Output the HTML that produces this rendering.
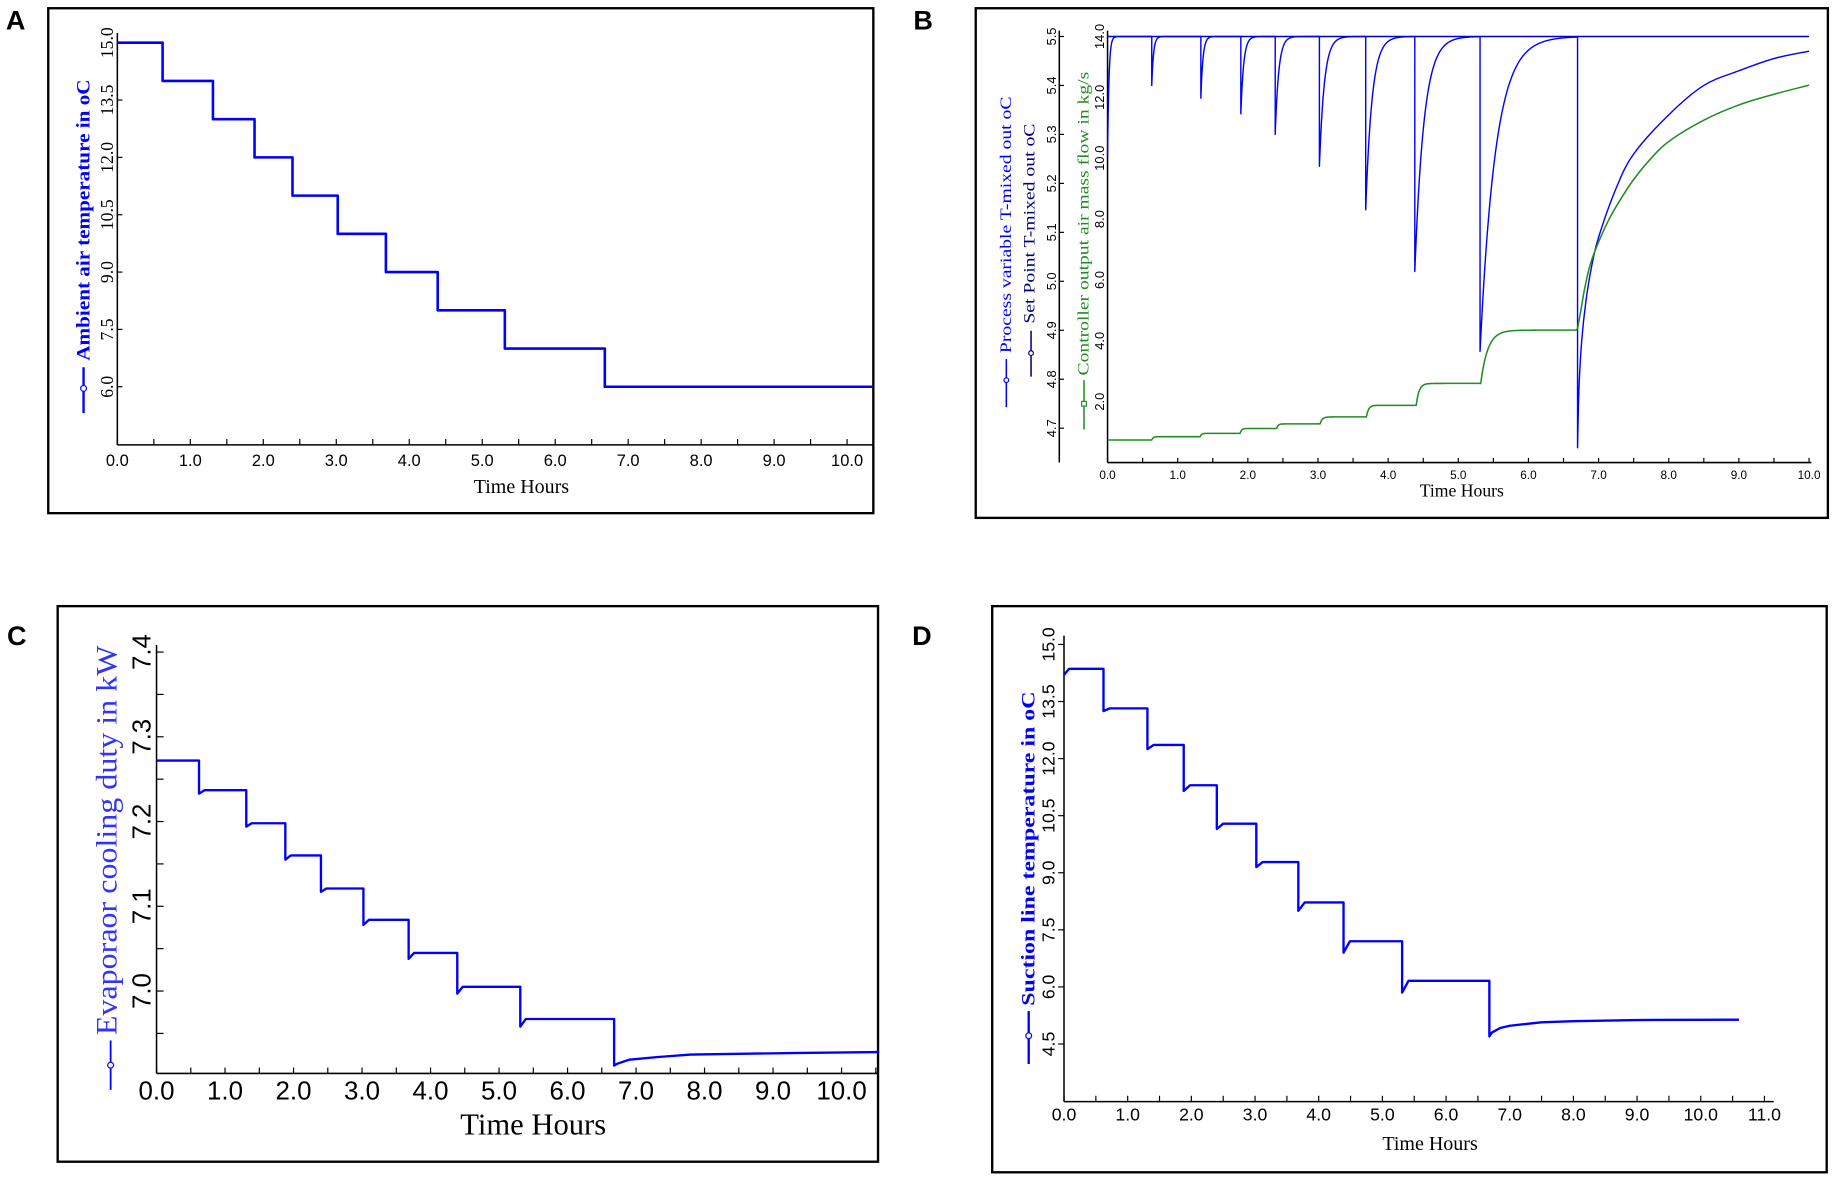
<!DOCTYPE html>
<html><head><meta charset="utf-8"><style>
html,body{margin:0;padding:0;background:#fff;width:1840px;height:1177px;overflow:hidden}
svg{display:block}
.serif{font-family:"Liberation Serif",serif}
.sans{font-family:"Liberation Sans",sans-serif}
</style></head><body>
<svg id="fig" width="1840" height="1177" viewBox="0 0 1563.3 1000" preserveAspectRatio="none" xmlns="http://www.w3.org/2000/svg">
<rect x="0" y="0" width="1563.3" height="1000" fill="#fff"/>
<g id="pa">
 <text x="5" y="25" class="sans" font-weight="bold" font-size="23">A</text>
 <rect x="41" y="7" width="701" height="429" fill="none" stroke="#000" stroke-width="2"/>
 <text class="serif" font-weight="bold" font-size="16" fill="#0000ff" text-anchor="middle" textLength="239" lengthAdjust="spacingAndGlyphs" transform="translate(76,187) rotate(-90)">Ambient air temperature in oC</text>
 <g><line x1="71" y1="312" x2="71" y2="351" stroke="#0000ff" stroke-width="2"/><circle cx="71" cy="330" r="2.5" fill="#fff" stroke="#0000ff"/></g>
 <text x="443" y="419" class="serif" font-size="17" text-anchor="middle">Time Hours</text>
</g>
<g id="pb">
 <text x="776" y="25" class="sans" font-weight="bold" font-size="23">B</text>
 <rect x="829" y="7" width="724" height="433" fill="none" stroke="#000" stroke-width="2"/>
 <text class="serif" font-size="13" fill="#0000ff" text-anchor="middle" textLength="218" lengthAdjust="spacingAndGlyphs" transform="translate(859,191) rotate(-90)">Process variable T-mixed out oC</text>
 <text class="serif" font-size="13" fill="#000080" text-anchor="middle" textLength="170" lengthAdjust="spacingAndGlyphs" transform="translate(879,190) rotate(-90)">Set Point T-mixed out oC</text>
 <text class="serif" font-size="13" fill="#228b22" text-anchor="middle" textLength="258" lengthAdjust="spacingAndGlyphs" transform="translate(925,190) rotate(-90)">Controller output air mass flow in kg/s</text>
 <g><line x1="855" y1="305" x2="855" y2="346" stroke="#0000ff" stroke-width="1.3"/><circle cx="855" cy="323" r="2" fill="#fff" stroke="#0000ff"/></g>
 <g><line x1="876" y1="281" x2="876" y2="320" stroke="#000080" stroke-width="1.3"/><circle cx="876" cy="300" r="2" fill="#fff" stroke="#000080"/></g>
 <g><line x1="921" y1="323" x2="921" y2="365" stroke="#228b22" stroke-width="1.3"/><rect x="919" y="341" width="4" height="4" fill="#fff" stroke="#228b22"/></g>
 <text x="1242" y="422" class="serif" font-size="15" text-anchor="middle">Time Hours</text>
</g>
<g id="pc">
 <text x="6" y="548" class="sans" font-weight="bold" font-size="23">C</text>
 <rect x="49" y="515" width="697" height="472" fill="none" stroke="#000" stroke-width="2"/>
 <text class="serif" font-size="25" fill="#3333ff" text-anchor="middle" textLength="331" lengthAdjust="spacingAndGlyphs" transform="translate(99,714) rotate(-90)">Evaporaor cooling duty in kW</text>
 <g><line x1="94" y1="884" x2="94" y2="926" stroke="#0000ff" stroke-width="1.5"/><circle cx="94" cy="905" r="2.5" fill="#fff" stroke="#0000ff"/></g>
 <text x="453" y="964" class="serif" font-size="26" text-anchor="middle">Time Hours</text>
</g>
<g id="pd">
 <text x="775" y="548" class="sans" font-weight="bold" font-size="23">D</text>
 <rect x="843" y="515" width="709" height="481" fill="none" stroke="#000" stroke-width="2"/>
 <text class="serif" font-weight="bold" font-size="16" fill="#0000ff" text-anchor="middle" textLength="267" lengthAdjust="spacingAndGlyphs" transform="translate(879,721) rotate(-90)">Suction line temperature in oC</text>
 <g><line x1="874" y1="859" x2="874" y2="904" stroke="#0000ff" stroke-width="2"/><circle cx="874" cy="880" r="2.5" fill="#fff" stroke="#0000ff"/></g>
 <text x="1215" y="977" class="serif" font-size="17" text-anchor="middle">Time Hours</text>
</g>
</svg>
<script>
// ---- data ----
const stepTimes = [0.62, 1.31, 1.88, 2.40, 3.02, 3.68, 4.39, 5.31, 6.68];
const aLevels = [15, 14, 13, 12, 11, 10, 9, 8, 7, 6];
const aTicksY = ["6.0", "7.5", "9.0", "10.5", "12.0", "13.5", "15.0"];
const hourTicks = ["0.0","1.0","2.0","3.0","4.0","5.0","6.0","7.0","8.0","9.0","10.0"];
const dHourTicks = ["0.0","1.0","2.0","3.0","4.0","5.0","6.0","7.0","8.0","9.0","10.0","11.0"];
const bLeftTicks = ["4.7","4.8","4.9","5.0","5.1","5.2","5.3","5.4","5.5"];
const bRightTicks = ["2.0","4.0","6.0","8.0","10.0","12.0","14.0"];
const bSetPoint = [5.5];
const pvEventTimes = [0, 0.63, 1.33, 1.90, 2.39, 3.02, 3.68, 4.38, 5.31];
const pvEventMins = [5.255, 5.40, 5.374, 5.342, 5.30, 5.235, 5.146, 5.02, 4.857];
const pvRecoveryHours = [0.02, 0.025, 0.03, 0.04, 0.05, 0.07, 0.09, 0.13, 0.22];
const pvTailT = [6.70, 6.70, 6.72, 6.76, 6.82, 6.90, 7.0, 7.25, 7.5, 8.0, 8.5, 9.0, 9.5, 10.0];
const pvTailV = [5.50, 4.66, 4.78, 4.88, 4.96, 5.03, 5.09, 5.19, 5.26, 5.34, 5.40, 5.43, 5.455, 5.47];
const coLevels = [0.74, 0.85, 0.96, 1.12, 1.27, 1.50, 1.88, 2.60, 4.35];
const coRiseHours = [0.02, 0.02, 0.02, 0.02, 0.03, 0.03, 0.04, 0.1];
const coTailT = [6.70, 6.74, 6.80, 6.88, 7.0, 7.15, 7.3, 7.5, 7.75, 8.0, 8.5, 9.0, 9.5, 10.0];
const coTailV = [4.40, 4.90, 5.70, 6.50, 7.25, 8.00, 8.60, 9.30, 10.00, 10.55, 11.25, 11.75, 12.10, 12.40];
const cLevels = [7.272, 7.237, 7.198, 7.160, 7.121, 7.084, 7.045, 7.005, 6.967];
const cDips = [7.233, 7.194, 7.155, 7.117, 7.078, 7.038, 6.997, 6.958];
const cTicksY = ["7.0", "7.1", "7.2", "7.3", "7.4"];
const cTailT = [6.68, 6.72, 6.9, 7.3, 7.8, 9.4, 10.55];
const cTailV = [6.912, 6.914, 6.919, 6.922, 6.925, 6.927, 6.928];
const dLevels = [14.36, 13.32, 12.36, 11.30, 10.29, 9.28, 8.22, 7.20, 6.16];
const dDips = [13.25, 12.25, 11.15, 10.15, 9.15, 8.0, 6.9, 5.85];
const dStart = [14.2];
const dTicksY = ["4.5", "6.0", "7.5", "9.0", "10.5", "12.0", "13.5", "15.0"];
const dTailT = [6.68, 6.72, 6.85, 7.0, 7.5, 8.0, 9.0, 10.6];
const dTailV = [4.70, 4.80, 4.92, 4.98, 5.07, 5.10, 5.13, 5.14];

// ---- helpers ----
const NS = 'http://www.w3.org/2000/svg';
function mk(tag, parent, attrs) {
  const e = document.createElementNS(NS, tag);
  for (const k in attrs) e.setAttribute(k, attrs[k]);
  parent.appendChild(e);
  return e;
}
function rotLabel(parent, x, y, txt, size, fam, name) {
  const t = mk('text', parent, {transform: 'translate(' + x + ',' + y + ') rotate(-90)', 'text-anchor': 'middle', 'font-size': size, 'class': fam});
  t.textContent = txt;
  
  
  return t;
}
function hLabel(parent, x, y, txt, size, fam, name) {
  const t = mk('text', parent, {x: x, y: y, 'text-anchor': 'middle', 'font-size': size, 'class': fam});
  t.textContent = txt;
  
  
  return t;
}
function axisLine(parent, x1, y1, x2, y2, name) {
  const l = mk('line', parent, {x1: x1, y1: y1, x2: x2, y2: y2, stroke: '#000', 'stroke-width': 1.3});
  
  
  return l;
}
function series(parent, d, color, w, name) {
  const p = mk('path', parent, {d: d, fill: 'none', stroke: color, 'stroke-width': w, 'stroke-linejoin': 'round'});
  
  
  return p;
}
function xTicks(g, xs, x0, y0, hMax, step, len, name) {
  for (let h = 0; h <= hMax + 1e-9; h += step) {
    const tk = mk('line', g, {x1: xs(h), y1: y0, x2: xs(h), y2: y0 - len, stroke: '#000', 'stroke-width': 1});
    
    
  }
}
function smoothPath(xs, ys) {
  // Catmull-Rom through points
  let d = 'M' + xs[0] + ',' + ys[0];
  for (let i = 0; i < xs.length - 1; i++) {
    const x0 = xs[Math.max(0, i - 1)], y0 = ys[Math.max(0, i - 1)];
    const x1 = xs[i], y1 = ys[i], x2 = xs[i + 1], y2 = ys[i + 1];
    const x3 = xs[Math.min(xs.length - 1, i + 2)], y3 = ys[Math.min(xs.length - 1, i + 2)];
    d += ' C' + (x1 + (x2 - x0) / 6).toFixed(2) + ',' + (y1 + (y2 - y0) / 6).toFixed(2) + ' ' +
         (x2 - (x3 - x1) / 6).toFixed(2) + ',' + (y2 - (y3 - y1) / 6).toFixed(2) + ' ' + x2.toFixed(2) + ',' + y2.toFixed(2);
  }
  return d;
}

// ---- Panel A ----
(function () {
  const g = document.getElementById('pa');
  const x = t => 99.7 + 62 * t;
  const y = v => 328.6 - (v - 6) * 32.48;
  axisLine(g, 99.7, 28, 99.7, 378, 'y-axis-a');
  axisLine(g, 99.7, 378, 742, 378, 'x-axis-a');
  xTicks(g, x, 99.7, 378, 10.3, 0.5, 5, 'x-tick-a');
  aTicksY.forEach(s => {
    const v = parseFloat(s);
    rotLabel(g, 96, y(v), s, 15, 'serif', 'y-tick-label-a');
    const tk = mk('line', g, {x1: 99.7, y1: y(v), x2: 104, y2: y(v), stroke: '#000'});
    
    
  });
  hourTicks.forEach((s, i) => hLabel(g, x(i), 396, s, 14, 'sans', 'x-tick-label-a'));
  let d = 'M' + x(0) + ',' + y(aLevels[0]);
  stepTimes.forEach((t, i) => { d += ' H' + x(t) + ' V' + y(aLevels[i + 1]); });
  d += ' H' + 741;
  series(g, d, '#0000ff', 2.2, 'ambient-temperature-line');
})();

// ---- Panel B ----
(function () {
  const g = document.getElementById('pb');
  const x = t => 941 + 59.6 * t;
  const yR = v => 393 - v * 25.86;
  const yL = v => 31 + (5.5 - v) * 416;
  axisLine(g, 900, 26, 900, 393, 'left-axis-temperature');
  axisLine(g, 941, 26, 941, 393, 'right-axis-mass-flow');
  axisLine(g, 941, 393, 1539, 393, 'x-axis-b');
  xTicks(g, x, 941, 393, 10, 0.5, 4, 'x-tick-b');
  bLeftTicks.forEach(s => {
    const v = parseFloat(s);
    rotLabel(g, 897, yL(v), s, 11, 'sans', 'y-tick-label-temperature');
    const tk = mk('line', g, {x1: 900, y1: yL(v), x2: 904, y2: yL(v), stroke: '#000'});
    
    
  });
  bRightTicks.forEach(s => {
    const v = parseFloat(s);
    rotLabel(g, 938, yR(v), s, 11, 'sans', 'y-tick-label-mass-flow');
  });
  hourTicks.forEach((s, i) => hLabel(g, x(i), 407, s, 10, 'sans', 'x-tick-label-b'));
  series(g, 'M' + x(0) + ',' + yL(bSetPoint[0]) + ' H' + x(10), '#0000cc', 1.3, 'set-point-line');
  // process variable
  let d = '';
  for (let k = 0; k < pvEventTimes.length; k++) {
    const t0 = pvEventTimes[k];
    const t1 = k + 1 < pvEventTimes.length ? pvEventTimes[k + 1] : pvTailT[0];
    const sp = bSetPoint[0], m = pvEventMins[k], tau = pvRecoveryHours[k];
    d += (k === 0 ? 'M' : ' L') + x(t0) + ',' + yL(k === 0 ? m : sp) + ' L' + x(t0) + ',' + yL(m);
    for (let t = t0 + 0.004; t <= t1 + 1e-9; t += 0.004) {
      d += ' L' + x(t).toFixed(2) + ',' + yL(sp - (sp - m) * Math.exp(-(t - t0) / tau)).toFixed(2);
    }
  }
  series(g, d, '#0000ff', 1.2, 'process-variable-line');
  const tail = smoothPath(pvTailT.slice(1).map(x), pvTailV.slice(1).map(yL));
  series(g, 'M' + x(pvTailT[0]) + ',' + yL(pvTailV[0]) + ' L' + tail.slice(1), '#0000ff', 1.2, 'process-variable-final-recovery');
  // controller output
  let dc = 'M' + x(0) + ',' + yR(coLevels[0]);
  for (let k = 0; k < 8; k++) {
    const t0 = stepTimes[k] + 0.01, t1 = stepTimes[k + 1];
    const a = coLevels[k], b = coLevels[k + 1], tau = coRiseHours[k];
    dc += ' L' + x(t0) + ',' + yR(a);
    for (let t = t0; t <= t1; t += 0.004) {
      dc += ' L' + x(t).toFixed(2) + ',' + yR(b - (b - a) * Math.exp(-(t - t0) / tau)).toFixed(2);
    }
  }
  dc += ' L' + x(coTailT[0]) + ',' + yR(coTailV[0]);
  series(g, dc, '#228b22', 1.3, 'controller-output-line');
  series(g, smoothPath(coTailT.map(x), coTailV.map(yR)), '#228b22', 1.3, 'controller-output-final-rise');
})();

// ---- Panel C ----
(function () {
  const g = document.getElementById('pc');
  const x = t => 133 + 58.2 * t;
  const y = v => 842 - (v - 7.0) * 720;
  axisLine(g, 133, 548, 133, 912, 'y-axis-c');
  axisLine(g, 133, 912, 746, 912, 'x-axis-c');
  xTicks(g, x, 133, 912, 10.5, 0.5, 5, 'x-tick-c');
  for (let v = 6.95; v <= 7.41; v += 0.05) {
    const tk = mk('line', g, {x1: 133, y1: y(v), x2: 139, y2: y(v), stroke: '#000'});
    
    
  }
  cTicksY.forEach(s => rotLabel(g, 128, y(parseFloat(s)), s, 22, 'sans', 'y-tick-label-c'));
  hourTicks.forEach((s, i) => hLabel(g, x(i), 934, s, 22, 'sans', 'x-tick-label-c'));
  let d = 'M' + x(0) + ',' + y(cLevels[0]);
  for (let k = 0; k < 8; k++) {
    const t = stepTimes[k];
    d += ' H' + x(t) + ' V' + y(cDips[k]) + ' L' + x(t + 0.08) + ',' + y(cLevels[k + 1]);
  }
  d += ' H' + x(stepTimes[8]);
  cTailT.forEach((t, i) => { d += ' L' + x(t) + ',' + y(cTailV[i]); });
  series(g, d, '#0000ff', 2, 'cooling-duty-line');
})();

// ---- Panel D ----
(function () {
  const g = document.getElementById('pd');
  const x = t => 904 + 54.1 * t;
  const y = v => 887 - (v - 4.5) * 32.33;
  axisLine(g, 904, 540, 904, 936, 'y-axis-d');
  axisLine(g, 904, 936, 1507, 936, 'x-axis-d');
  xTicks(g, x, 904, 936, 11.0, 0.5, 5, 'x-tick-d');
  dTicksY.forEach(s => {
    const v = parseFloat(s);
    rotLabel(g, 896, y(v), s, 15, 'sans', 'y-tick-label-d');
    const tk = mk('line', g, {x1: 899, y1: y(v), x2: 904, y2: y(v), stroke: '#000'});
    
    
  });
  dHourTicks.forEach((s, i) => hLabel(g, x(i), 952, s, 15, 'sans', 'x-tick-label-d'));
  let d = 'M' + x(0) + ',' + y(dStart[0]) + ' L' + x(0.08) + ',' + y(dLevels[0]);
  for (let k = 0; k < 8; k++) {
    const t = stepTimes[k];
    d += ' H' + x(t) + ' V' + y(dDips[k]) + ' L' + x(t + 0.1) + ',' + y(dLevels[k + 1]);
  }
  d += ' H' + x(stepTimes[8]);
  dTailT.forEach((t, i) => { d += ' L' + x(t) + ',' + y(dTailV[i]); });
  series(g, d, '#0000ff', 2, 'suction-temperature-line');
})();
</script>
</body></html>
